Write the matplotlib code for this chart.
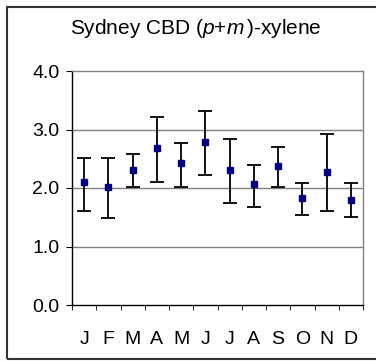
import matplotlib
matplotlib.use('Agg')
import matplotlib.pyplot as plt
from matplotlib.patches import Rectangle

plt.rcParams['font.family'] = ['Liberation Sans', 'DejaVu Sans']
plt.rcParams['mathtext.fontset'] = 'custom'
plt.rcParams['mathtext.rm'] = 'Liberation Sans'
plt.rcParams['mathtext.it'] = 'Liberation Sans:italic'

months = ['J', 'F', 'M', 'A', 'M', 'J', 'J', 'A', 'S', 'O', 'N', 'D']
means = [2.11, 2.01, 2.31, 2.69, 2.42, 2.79, 2.31, 2.07, 2.38, 1.83, 2.28, 1.80]
upper = [2.52, 2.52, 2.58, 3.22, 2.77, 3.32, 2.84, 2.40, 2.70, 2.09, 2.92, 2.09]
lower = [1.61, 1.48, 2.02, 2.10, 2.02, 2.23, 1.75, 1.68, 2.02, 1.54, 1.61, 1.51]

fig = plt.figure(figsize=(3.76, 3.61), dpi=100)
ax = fig.add_axes([72 / 376, 56 / 361, 291 / 376, 234 / 361])

x = list(range(len(months)))
err_lo = [m - l for m, l in zip(means, lower)]
err_hi = [u - m for m, u in zip(means, upper)]
ax.errorbar(x, means, yerr=[err_lo, err_hi], fmt='s', color='#000080',
            markersize=5, ecolor='black', elinewidth=1.3, capsize=5,
            capthick=1.3, zorder=3)

ax.set_xlim(-0.5, 11.5)
ax.set_ylim(0, 4)
ax.set_yticks([0, 1, 2, 3, 4])
ax.set_yticklabels(['0.0', '1.0', '2.0', '3.0', '4.0'], fontsize=14)
ax.set_xticks(x)
ax.set_xticklabels(months, fontsize=14)
ax.set_xticks([i - 0.5 for i in range(13)], minor=True)
ax.tick_params(axis='x', which='major', length=0, pad=18.5)
ax.tick_params(axis='x', which='minor', length=3.5, direction='out', color='black')
ax.tick_params(axis='y', length=4, direction='out', color='black', pad=5)

for v in [1, 2, 3]:
    ax.axhline(v, color='#808080', lw=1, zorder=1)
ax.spines['top'].set_color('#808080')
ax.spines['right'].set_color('#808080')
ax.spines['left'].set_color('black')
ax.spines['bottom'].set_color('black')
for s in ax.spines.values():
    s.set_linewidth(1)

fig.text(196 / 376, 1 - 28 / 361, 'Sydney CBD ($\\mathit{p}$+$\\mathit{m}\\,$)-xylene',
         ha='center', va='center', fontsize=15)

# outer chart frame (right side cut off in the original)
fig.patches.append(Rectangle((6.5 / 376, 2.5 / 361), 1.0, 352 / 361,
                             transform=fig.transFigure, fill=False,
                             edgecolor='#333333', lw=1.5))

fig.savefig('out.png', dpi=100)
